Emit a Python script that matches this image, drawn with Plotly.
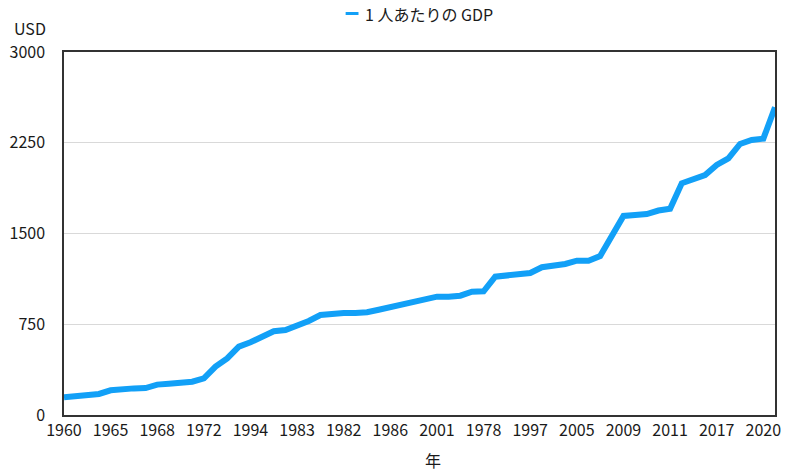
import plotly.graph_objects as go

# Category labels (as they appear, in order) - 62 unique year strings
years = ["1960", "1961", "1962", "1963",
         "1965", "1964", "1966", "1967",
         "1968", "1969", "1970", "1971",
         "1972", "1973", "1974", "1975",
         "1994", "1976", "1977", "1979",
         "1983", "1980", "1981", "1984",
         "1982", "1985", "1987", "1988",
         "1986", "1989", "1990", "1991",
         "2001", "1992", "1993", "1995",
         "1978", "1996", "1998", "1999",
         "1997", "2000", "2002", "2003",
         "2005", "2004", "2006", "2007",
         "2009", "2008", "2010", "2012",
         "2011", "2013", "2014", "2015",
         "2017", "2016", "2018", "2019",
         "2020", "2021"]

gdp_per_capita = [146, 156, 158, 174, 204, 215, 220, 223, 251, 259,
                  267, 275, 303, 400, 468, 565, 601, 647, 692, 702,
                  738, 777, 826, 840, 843, 843, 849, 870, 890, 909,
                  931, 949, 978, 978, 986, 1019, 1022, 1143, 1151, 1168,
                  1174, 1221, 1231, 1248, 1275, 1275, 1314, 1474, 1645, 1653,
                  1661, 1690, 1705, 1915, 1948, 1983, 2066, 2121, 2240, 2273,
                  2284, 2543]

tick_labels = years[0:61:4]
y_ticks = [0, 750, 1500, 2250, 3000]

series_name = "1 人あたりの GDP"
line_color = "#12a0f7"
font_family = "Noto Sans CJK JP, Noto Sans, sans-serif"
text_color = "#1a1a1a"

fig = go.Figure()
fig.add_trace(go.Scatter(
    x=years, y=gdp_per_capita, mode="lines", name=series_name,
    line=dict(color=line_color, width=6), showlegend=False,
))

fig.update_layout(
    width=787, height=472,
    margin=dict(l=64, r=6, t=52, b=57),
    paper_bgcolor="white", plot_bgcolor="white",
    font=dict(family=font_family, size=16, color=text_color),
    xaxis=dict(
        type="category", range=[0, len(years) - 1],
        tickmode="array", tickvals=tick_labels, ticktext=tick_labels,
        showgrid=False, showline=True, linecolor="#333333", linewidth=1.5,
        mirror=True, ticks="", tickfont=dict(size=16, color=text_color),
        zeroline=False,
    ),
    yaxis=dict(
        range=[0, 3000], tickmode="array", tickvals=y_ticks,
        ticktext=[str(v) for v in y_ticks],
        showgrid=True, gridcolor="#d9d9d9", gridwidth=1,
        showline=True, linecolor="#333333", linewidth=1.5, mirror=True,
        ticks="", ticklabelstandoff=14, zeroline=False,
        tickfont=dict(size=16, color=text_color),
    ),
    annotations=[
        dict(text="USD", xref="paper", yref="paper", x=-0.0484, y=1.065,
             xanchor="center", yanchor="middle", showarrow=False,
             font=dict(size=16, color=text_color)),
        dict(text="年", xref="paper", yref="paper", x=0.5195, y=-0.124,
             xanchor="center", yanchor="middle", showarrow=False,
             font=dict(size=16, color=text_color)),
        dict(text=series_name, xref="paper", yref="paper", x=0.4212, y=1.106,
             xanchor="left", yanchor="middle", showarrow=False,
             font=dict(size=16, color=text_color)),
    ],
    shapes=[
        dict(type="line", xref="paper", yref="paper", x0=0.3961, x1=0.4142,
             y0=1.106, y1=1.106, line=dict(color=line_color, width=3)),
    ],
)

fig.write_html("out.html")
